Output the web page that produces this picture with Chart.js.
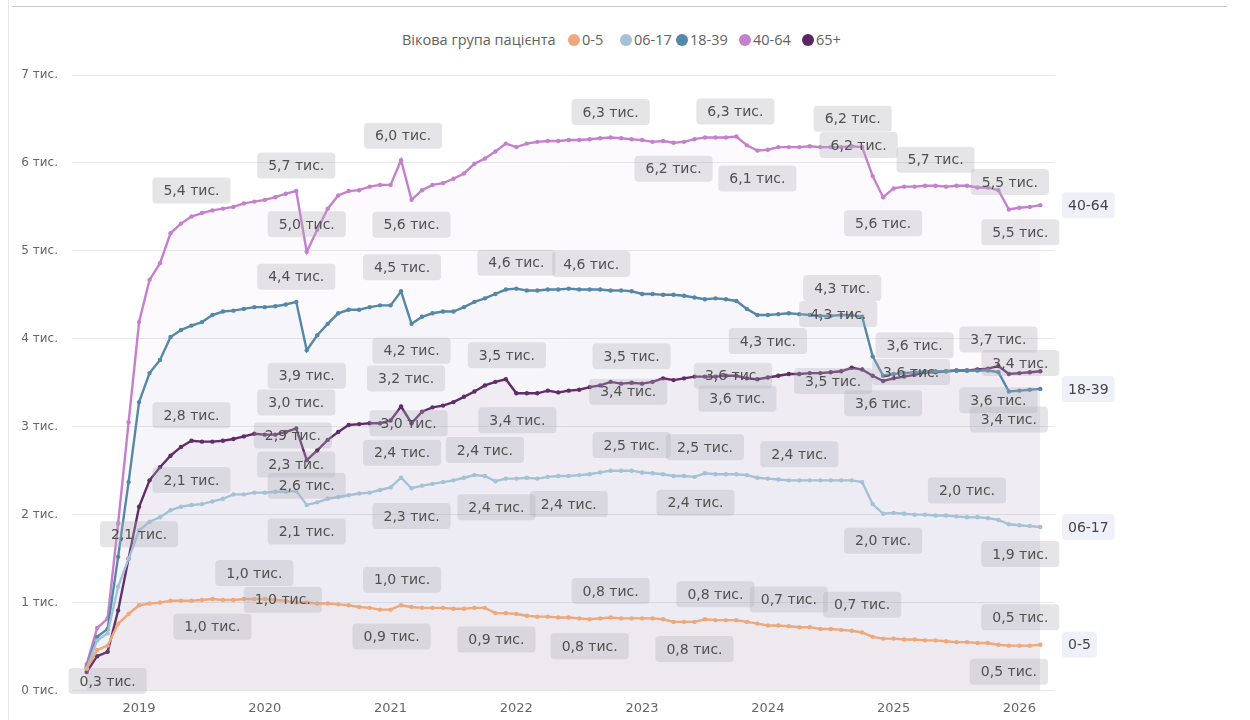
<!DOCTYPE html>
<html><head><meta charset="utf-8">
<script src="https://cdn.jsdelivr.net/npm/chart.js@4"></script>
<style>
html,body{margin:0;padding:0;background:#fff;width:1250px;height:720px;overflow:hidden;}
#frameTop{position:absolute;left:12px;top:6px;width:1215px;height:1px;background:#c9c9c9;}
#frameLeft{position:absolute;left:8px;top:0;width:1px;height:720px;background:#e8e8e8;}
#legend{position:absolute;top:30px;left:0;width:1250px;height:20px;font-family:'Open Sans',sans-serif;font-size:14.5px;color:#616161;}
.lg{position:absolute;top:0;line-height:20px;white-space:nowrap;}
.dot{position:absolute;top:4px;width:12px;height:12px;border-radius:50%;}
canvas{position:absolute;left:0;top:0;}
</style></head>
<body>
<div id="frameTop"></div><div id="frameLeft"></div>
<div id="legend"></div>
<canvas id="c" width="1250" height="720"></canvas>
<script>
// ---------- DATA ----------
const legendTitle = 'Вікова група пацієнта';
const unitSuffix = ' тис.';
const months = [
 '2018-08','2018-09','2018-10','2018-11','2018-12',
 '2019-01','2019-02','2019-03','2019-04','2019-05','2019-06','2019-07','2019-08','2019-09','2019-10','2019-11','2019-12',
 '2020-01','2020-02','2020-03','2020-04','2020-05','2020-06','2020-07','2020-08','2020-09','2020-10','2020-11','2020-12',
 '2021-01','2021-02','2021-03','2021-04','2021-05','2021-06','2021-07','2021-08','2021-09','2021-10','2021-11','2021-12',
 '2022-01','2022-02','2022-03','2022-04','2022-05','2022-06','2022-07','2022-08','2022-09','2022-10','2022-11','2022-12',
 '2023-01','2023-02','2023-03','2023-04','2023-05','2023-06','2023-07','2023-08','2023-09','2023-10','2023-11','2023-12',
 '2024-01','2024-02','2024-03','2024-04','2024-05','2024-06','2024-07','2024-08','2024-09','2024-10','2024-11','2024-12',
 '2025-01','2025-02','2025-03','2025-04','2025-05','2025-06','2025-07','2025-08','2025-09','2025-10','2025-11','2025-12',
 '2026-01','2026-02','2026-03'
];
const yearTicks = ['2019','2020','2021','2022','2023','2024','2025','2026'];
const yTickValues = [0,1,2,3,4,5,6,7];

const seriesNames = ['0-5','06-17','18-39','40-64','65+'];
const seriesColors = ['#EDA87C','#A3C2D6','#5587A6','#C480CC','#5E2661'];

const age0_5 = [
 0.25,0.46,0.51,0.76,0.87,0.97,0.99,1.00,1.02,1.02,
 1.02,1.03,1.04,1.03,1.03,1.04,1.04,1.04,1.03,1.02,
 1.00,1.00,0.99,0.99,0.98,0.97,0.95,0.94,0.92,0.92,
 0.97,0.95,0.94,0.94,0.94,0.93,0.93,0.94,0.94,0.88,
 0.88,0.87,0.85,0.84,0.84,0.83,0.83,0.82,0.81,0.82,
 0.83,0.82,0.82,0.82,0.82,0.81,0.78,0.78,0.78,0.81,
 0.80,0.80,0.80,0.78,0.76,0.74,0.74,0.73,0.72,0.72,
 0.70,0.70,0.69,0.68,0.66,0.61,0.59,0.59,0.58,0.58,
 0.57,0.57,0.56,0.55,0.55,0.54,0.54,0.52,0.51,0.51,
 0.51,0.52];
const age06_17 = [
 0.25,0.57,0.65,1.18,1.50,1.82,1.92,1.97,2.05,2.09,
 2.11,2.12,2.15,2.18,2.23,2.23,2.25,2.25,2.26,2.26,
 2.27,2.11,2.14,2.18,2.20,2.22,2.24,2.25,2.28,2.31,
 2.42,2.30,2.33,2.35,2.37,2.39,2.42,2.45,2.44,2.38,
 2.41,2.41,2.42,2.41,2.43,2.44,2.44,2.45,2.46,2.48,
 2.50,2.50,2.50,2.48,2.47,2.46,2.44,2.44,2.43,2.47,
 2.46,2.46,2.46,2.45,2.42,2.41,2.40,2.39,2.39,2.39,
 2.39,2.39,2.39,2.39,2.37,2.12,2.01,2.02,2.01,2.00,
 2.00,1.99,1.99,1.98,1.97,1.97,1.96,1.94,1.89,1.88,
 1.87,1.86];
const age18_39 = [
 0.27,0.61,0.70,1.52,2.37,3.28,3.61,3.76,4.02,4.10,
 4.15,4.19,4.27,4.31,4.32,4.34,4.36,4.36,4.37,4.39,
 4.42,3.87,4.04,4.17,4.29,4.33,4.33,4.36,4.38,4.38,
 4.54,4.17,4.25,4.29,4.31,4.31,4.36,4.42,4.46,4.51,
 4.56,4.57,4.55,4.55,4.56,4.56,4.57,4.56,4.56,4.56,
 4.55,4.55,4.54,4.51,4.51,4.50,4.50,4.49,4.47,4.45,
 4.46,4.45,4.43,4.34,4.27,4.27,4.28,4.29,4.28,4.27,
 4.26,4.26,4.27,4.27,4.25,3.80,3.58,3.60,3.61,3.62,
 3.63,3.63,3.63,3.64,3.64,3.64,3.64,3.62,3.40,3.41,
 3.42,3.43];
const age40_64 = [
 0.30,0.71,0.82,1.90,3.05,4.19,4.67,4.86,5.20,5.31,
 5.39,5.43,5.46,5.48,5.50,5.54,5.56,5.58,5.61,5.65,
 5.68,4.99,5.24,5.48,5.63,5.68,5.69,5.73,5.75,5.75,
 6.03,5.58,5.69,5.75,5.77,5.82,5.88,5.99,6.05,6.13,
 6.22,6.18,6.22,6.24,6.25,6.25,6.26,6.26,6.27,6.28,
 6.29,6.28,6.27,6.26,6.24,6.25,6.23,6.24,6.27,6.29,
 6.29,6.29,6.30,6.20,6.14,6.15,6.18,6.18,6.18,6.19,
 6.18,6.18,6.18,6.19,6.18,5.85,5.61,5.71,5.73,5.73,
 5.74,5.74,5.73,5.74,5.74,5.72,5.72,5.69,5.47,5.49,
 5.50,5.52];
const age65plus = [
 0.21,0.39,0.44,0.91,1.50,2.09,2.39,2.54,2.67,2.77,
 2.84,2.83,2.83,2.84,2.86,2.89,2.92,2.91,2.91,2.94,
 2.98,2.62,2.73,2.85,2.94,3.02,3.03,3.04,3.04,3.07,
 3.23,3.04,3.17,3.22,3.24,3.28,3.34,3.40,3.47,3.51,
 3.54,3.38,3.38,3.38,3.41,3.39,3.41,3.42,3.45,3.47,
 3.51,3.49,3.50,3.49,3.51,3.55,3.53,3.55,3.57,3.57,
 3.57,3.58,3.58,3.55,3.54,3.56,3.58,3.60,3.60,3.61,
 3.61,3.62,3.63,3.67,3.65,3.58,3.52,3.55,3.57,3.59,
 3.62,3.62,3.63,3.64,3.64,3.65,3.66,3.69,3.60,3.61,
 3.62,3.63];
const seriesValues = [age0_5, age06_17, age18_39, age40_64, age65plus];
const endLabelSeries = ['0-5','06-17','18-39','40-64'];

// data labels: [series, month index, vertical offset, horizontal offset]
const dataLabels = [
 ['40-64',0,17,21],['40-64',10,-26,0],['40-64',20,-25.5,0],['40-64',21,-27.5,0],['40-64',30,-24.5,2],
 ['40-64',31,25,0],['40-64',50,-25.5,0],['40-64',56,26,0],['40-64',62,-25,-1],['40-64',64,28,0],
 ['40-64',73,-27.5,1],['40-64',74,-2,-3.5],['40-64',76,26,0],['40-64',81,-26,0],['40-64',88,-27.5,1],
 ['40-64',91,27,-20],
 ['18-39',20,-25,0],['18-39',21,25.5,0],['18-39',30,-24,1],['18-39',31,27,0],['18-39',41,-26,0],
 ['18-39',48,-25.5,1.5],['18-39',65,26,0],['18-39',71,-2,7.5],['18-39',72,-27,1],['18-39',76,27.5,0],
 ['18-39',78,-1,7],['18-39',79,-27,0],['18-39',87,28,0],['18-39',88,28,0],['18-39',91,-26,-20],
 ['65+',5,27.5,0],['65+',10,-25.5,0],['65+',19,3.5,7],['65+',20,-26,0],['65+',21,25.5,0],
 ['65+',30,-28,5],['65+',31,0,-3],['65+',40,-24,1],['65+',41,27,1],['65+',47,2,49],
 ['65+',52,-26.5,0],['65+',61,0,7],['65+',62,23,1],['65+',76,0,-50],['65+',87,-26.5,0],
 ['06-17',10,-25,0],['06-17',20,-26.5,0],['06-17',21,26.5,0],['06-17',30,-25,1],['06-17',31,27.7,0],
 ['06-17',38,-26,0],['06-17',39,26,1],['06-17',46,28,0],['06-17',52,-25.7,0],['06-17',58,26,1],
 ['06-17',59,-26,0],['06-17',68,-26,0],['06-17',76,27,0],['06-17',84,-26.7,0],['06-17',91,27,-20],
 ['0-5',12,27.7,0],['0-5',16,-26,0],['0-5',19,-1,-3],['0-5',29,27,1],['0-5',30,-25.5,1],
 ['0-5',39,26.5,1],['0-5',48,27,0],['0-5',50,-26.6,0],['0-5',58,27,0],['0-5',60,-26,0],
 ['0-5',67,-26.7,0],['0-5',74,-27.7,0],['0-5',88,26,0],['0-5',91,-27.5,-20]
];

// ---------- LEGEND (HTML) ----------
const legendTitleX = 402;
const legendDotX = [568, 620, 676, 739, 802];
(function(){
  const lg = document.getElementById('legend');
  const t = document.createElement('span'); t.className='lg'; t.style.left = legendTitleX+'px'; t.textContent = legendTitle; lg.appendChild(t);
  seriesNames.forEach((n,i)=>{
    const d = document.createElement('span'); d.className='dot'; d.style.left = legendDotX[i]+'px'; d.style.background = seriesColors[i]; lg.appendChild(d);
    const s = document.createElement('span'); s.className='lg'; s.style.left = (legendDotX[i]+14)+'px'; s.textContent = n; lg.appendChild(s);
  });
})();

function rgba(hex,a){const n=parseInt(hex.slice(1),16);return `rgba(${n>>16&255},${n>>8&255},${n&255},${a})`;}
function fmt(v){return v.toFixed(1).replace('.',',')+unitSuffix;}

function roundRect(ctx,x,y,w,h,r){ctx.beginPath();ctx.moveTo(x+r,y);ctx.lineTo(x+w-r,y);ctx.quadraticCurveTo(x+w,y,x+w,y+r);ctx.lineTo(x+w,y+h-r);ctx.quadraticCurveTo(x+w,y+h,x+w-r,y+h);ctx.lineTo(x+r,y+h);ctx.quadraticCurveTo(x,y+h,x,y+h-r);ctx.lineTo(x,y+r);ctx.quadraticCurveTo(x,y,x+r,y);ctx.closePath();}

const labelPlugin = {
  id:'pbiLabels',
  afterDatasetsDraw(chart){
    const ctx = chart.ctx;
    ctx.save();
    ctx.font = '14px "DejaVu Sans"';
    ctx.textAlign='center'; ctx.textBaseline='middle';
    dataLabels.forEach(([name,idx,dy,dx])=>{
      const di = seriesNames.indexOf(name);
      const pt = chart.getDatasetMeta(di).data[idx];
      const txt = fmt(seriesValues[di][idx]);
      const w = ctx.measureText(txt).width + 22, h = 26;
      const cx = pt.x + dx, cy = pt.y + dy;
      roundRect(ctx, cx-w/2, cy-h/2, w, h, 4);
      ctx.fillStyle='rgba(175,175,182,0.32)'; ctx.fill();
      ctx.fillStyle='#505050'; ctx.fillText(txt, cx, cy+1);
    });
    // series end labels
    ctx.textAlign='left';
    endLabelSeries.forEach(name=>{
      const di = seriesNames.indexOf(name);
      const pts = chart.getDatasetMeta(di).data;
      const pt = pts[pts.length-1];
      const w = ctx.measureText(name).width + 12, h = 26;
      const x0 = chart.chartArea.right + 7;
      roundRect(ctx, x0, pt.y-h/2, w, h, 4);
      ctx.fillStyle='rgba(236,238,250,0.9)'; ctx.fill();
      ctx.fillStyle='#454545'; ctx.fillText(name, x0+6, pt.y+1);
    });
    ctx.restore();
  }
};

new Chart(document.getElementById('c').getContext('2d'), {
  type:'line',
  data:{
    datasets: seriesNames.map((n,i)=>({
      label:n,
      data: seriesValues[i].map((v,k)=>({x:k,y:v})),
      borderColor: seriesColors[i],
      backgroundColor: rgba(seriesColors[i],0.04),
      fill:'origin',
      borderWidth:2.4,
      pointRadius:2.2,
      pointHoverRadius:2.2,
      pointBackgroundColor: seriesColors[i],
      pointBorderWidth:0,
      tension:0
    }))
  },
  options:{
    responsive:false, animation:false, devicePixelRatio:1,
    layout:{padding:{left:0,right:195,top:75,bottom:0}},
    plugins:{legend:{display:false}, tooltip:{enabled:false}},
    scales:{
      x:{
        type:'linear', min:-1.4, max:92.4,
        grid:{display:false}, border:{display:false},
        afterBuildTicks: sc => { sc.ticks = yearTicks.map(y=>({value: months.indexOf(y+'-01')})); },
        afterFit: sc => { sc.height = 29.5; },
        ticks:{autoSkip:false, maxRotation:0, padding:2, color:'#666', font:{family:'DejaVu Sans', size:13},
          callback: v => months[v].slice(0,4)}
      },
      y:{
        min:0, max:7,
        afterBuildTicks: sc => { sc.ticks = yTickValues.map(v=>({value:v})); },
        afterFit: sc => { sc.width = 72; },
        grid:{color:'#e9e9e9', drawTicks:false}, border:{display:false},
        ticks:{padding:14, color:'#666', font:{family:'DejaVu Sans', size:12}, callback: v => v + unitSuffix}
      }
    }
  },
  plugins:[labelPlugin]
});
</script>
</body></html>
